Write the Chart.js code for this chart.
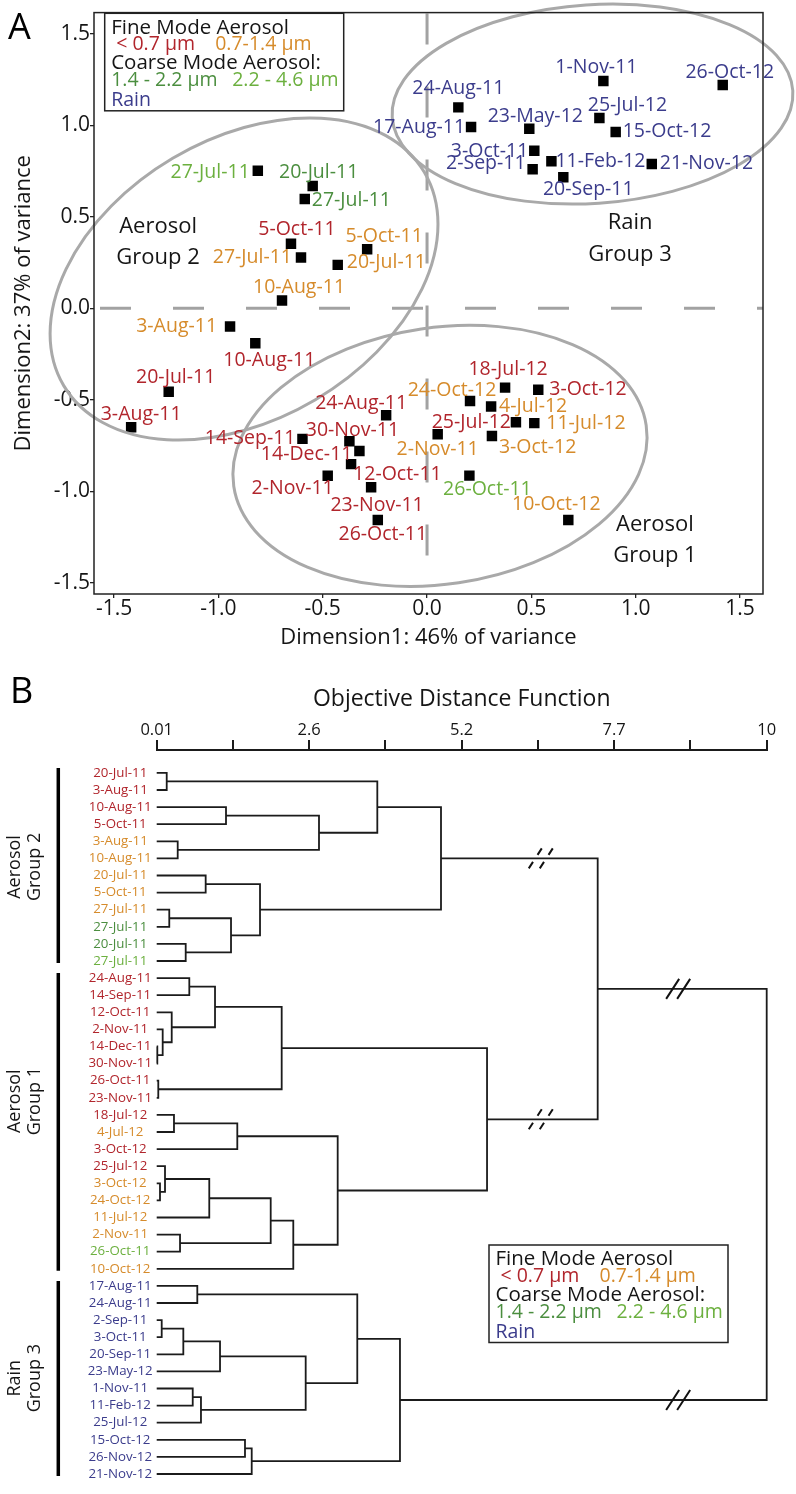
<!DOCTYPE html>
<html>
<head>
<meta charset="utf-8">
<script src="https://cdn.jsdelivr.net/npm/chart.js@4.4.1/dist/chart.umd.min.js"></script>
<style>
  html, body { margin: 0; padding: 0; background: #fff; overflow: hidden; }
  #panelA { position: absolute; left: 0; top: 0; width: 796px; height: 660px; }
  #panelB { position: absolute; left: 0; top: 660px; width: 796px; height: 834px; }
</style>
</head>
<body>
<div id="panelA"><canvas id="mdsChart"></canvas></div>
<div id="panelB"><canvas id="treeChart"></canvas></div>
<script>
// ---- Panel A data: MDS coordinates per size class ----
const classNames = ['< 0.7 µm', '0.7-1.4 µm', '1.4 - 2.2 µm', '2.2 - 4.6 µm', 'Rain'];

const fineSmallDates = ['5-Oct-11', '10-Aug-11', '20-Jul-11', '3-Aug-11', '14-Sep-11', '30-Nov-11', '14-Dec-11', '12-Oct-11',
  '2-Nov-11', '23-Nov-11', '26-Oct-11', '24-Aug-11', '18-Jul-12', '3-Oct-12', '25-Jul-12'];
const fineSmallDim1 = [-0.652, -0.823, -1.238, -1.418, -0.597, -0.372, -0.324, -0.364, -0.476, -0.268, -0.236, -0.196, 0.374, 0.533, 0.426];
const fineSmallDim2 = [0.353, -0.191, -0.456, -0.650, -0.714, -0.727, -0.780, -0.852, -0.916, -0.978, -1.157, -0.585, -0.434, -0.446, -0.623];

const fineLargeDates = ['27-Jul-11', '20-Jul-11', '5-Oct-11', '10-Aug-11', '3-Aug-11', '24-Oct-12', '4-Jul-12', '11-Jul-12',
  '2-Nov-11', '3-Oct-12', '10-Oct-12'];
const fineLargeDim1 = [-0.604, -0.428, -0.287, -0.695, -0.944, 0.206, 0.307, 0.514, 0.051, 0.311, 0.677];
const fineLargeDim2 = [0.277, 0.237, 0.322, 0.042, -0.100, -0.507, -0.537, -0.628, -0.689, -0.698, -1.157];

const coarseSmallDates = ['20-Jul-11', '27-Jul-11'];
const coarseSmallDim1 = [-0.548, -0.586];
const coarseSmallDim2 = [0.668, 0.597];

const coarseLargeDates = ['27-Jul-11', '26-Oct-11'];
const coarseLargeDim1 = [-0.811, 0.203];
const coarseLargeDim2 = [0.752, -0.915];

const rainDates = ['1-Nov-11', '26-Oct-12', '24-Aug-11', '17-Aug-11', '23-May-12', '25-Jul-12', '15-Oct-12', '3-Oct-11',
  '2-Sep-11', '11-Feb-12', '20-Sep-11', '21-Nov-12'];
const rainDim1 = [0.845, 1.417, 0.150, 0.211, 0.490, 0.826, 0.904, 0.514, 0.506, 0.596, 0.653, 1.077];
const rainDim2 = [1.242, 1.220, 1.098, 0.991, 0.981, 1.040, 0.963, 0.861, 0.760, 0.803, 0.716, 0.789];

const dim1Ticks = [-1.5, -1.0, -0.5, 0.0, 0.5, 1.0, 1.5];
const dim2Ticks = [-1.5, -1.0, -0.5, 0.0, 0.5, 1.0, 1.5];

// ---- Panel B data: dendrogram ----
const leafDates = ['20-Jul-11', '3-Aug-11', '10-Aug-11', '5-Oct-11', '3-Aug-11', '10-Aug-11', '20-Jul-11', '5-Oct-11',
  '27-Jul-11', '27-Jul-11', '20-Jul-11', '27-Jul-11',
  '24-Aug-11', '14-Sep-11', '12-Oct-11', '2-Nov-11', '14-Dec-11', '30-Nov-11', '26-Oct-11', '23-Nov-11',
  '18-Jul-12', '4-Jul-12', '3-Oct-12', '25-Jul-12', '3-Oct-12', '24-Oct-12', '11-Jul-12', '2-Nov-11', '26-Oct-11', '10-Oct-12',
  '17-Aug-11', '24-Aug-11', '2-Sep-11', '3-Oct-11', '20-Sep-11', '23-May-12', '1-Nov-11', '11-Feb-12', '25-Jul-12',
  '15-Oct-12', '26-Nov-12', '21-Nov-12'];
const leafClass = [0, 0, 0, 0, 1, 1, 1, 1, 1, 2, 2, 3,
  0, 0, 0, 0, 0, 0, 0, 0, 0, 1, 0, 0, 1, 1, 1, 1, 3, 1,
  4, 4, 4, 4, 4, 4, 4, 4, 4, 4, 4, 4];
// linkage: node ids < 42 are leaves, 42+k is the k-th merge
const mergeLeft = [0, 2, 4, 43, 42, 6, 8, 10, 48, 47, 46,
  12, 16, 15, 14, 53, 18, 57, 20, 60, 24, 23, 63, 27, 64, 66, 61, 59, 52,
  30, 32, 72, 73, 36, 75, 74, 71, 39, 79, 78, 70];
const mergeRight = [1, 3, 5, 44, 45, 7, 9, 11, 49, 50, 51,
  13, 17, 54, 55, 56, 19, 58, 21, 22, 25, 62, 26, 28, 65, 29, 67, 68, 69,
  31, 33, 34, 35, 37, 38, 76, 77, 40, 41, 80, 81];
const mergeHeight = [0.174, 1.145, 0.354, 2.668, 3.623, 0.812, 0.216, 0.485, 1.227, 1.702, 4.666,
  0.544, 0.02, 0.108, 0.256, 0.965, 0.036, 2.057, 0.293, 1.33, 0.064, 0.146, 0.871, 0.392, 1.877, 2.247, 2.974, 5.42, 7.232,
  0.675, 0.092, 0.446, 1.047, 0.6, 0.735, 2.45, 3.295, 1.456, 1.566, 3.994, 10.0];
const distTickLabels = ['0.01', '', '2.6', '', '5.2', '', '7.7', '', '10'];
const DIST_MIN = 0.01, DIST_MAX = 10;

const groupTitles = [['Aerosol', 'Group 2'], ['Aerosol', 'Group 1'], ['Rain', 'Group 3']];
const groupFirstLeaf = [0, 12, 30];
const groupLastLeaf = [11, 29, 41];

// ---- styling ----
const FONT = '"Open Sans", "Noto Sans", sans-serif';
const CLASS_COLORS = ['#b1252c', '#d68b2b', '#4b8e3f', '#6cb03f', '#3b3c8c'];
const INK = '#151515';
Chart.defaults.font.family = FONT;
Chart.defaults.color = INK;

// label placement next to each marker: [dx, dy, side]  l = text left of point, r = right, c = centred
const mdsLabelPos = [
  [[6, -14, 'c'], [14, 17, 'c'], [7, -14, 'c'], [10, -13, 'c'], [-7, 0, 'l'], [3, -11, 'c'], [-7, 4, 'l'], [2, 10, 'r'],
   [6, 13, 'l'], [6, 18, 'c'], [5, 15, 'c'], [-25, -12, 'c'], [3, -18, 'c'], [11, 0, 'r'], [-5, 0, 'l']],
  [[-9, 0, 'l'], [9, -2, 'r'], [17, -13, 'c'], [17, -13, 'c'], [-13, 0, 'l'], [-18, -11, 'c'], [8, 0, 'r'], [12, 0, 'r'],
   [0, 15, 'c'], [7, 12, 'r'], [-12, -15, 'c']],
  [[6, -14, 'c'], [7, 1, 'r']],
  [[-8, 2, 'l'], [18, 14, 'c']],
  [[-7, -14, 'c'], [7, -13, 'c'], [0, -19, 'c'], [-6, 0, 'l'], [6, -12, 'c'], [28, -13, 'c'], [7, -1, 'r'], [-6, 1, 'l'],
   [-7, -6, 'l'], [4, 0, 'r'], [25, 12, 'c'], [8, 0, 'r']]
];
// cluster envelopes in panel A: centre in data units, semi-axes in x units, tilt in degrees
const envCx = [-0.877, 0.793, 0.062];
const envCy = [0.160, 1.116, -0.807];
const envA = [1.004, 0.962, 0.999];
const envB = [0.672, 0.476, 0.615];
const envTilt = [30.6, 3.8, 8.4];
const envTitles = [['Aerosol', 'Group 2'], ['Rain', 'Group 3'], ['Aerosol', 'Group 1']];
const envTitleX = [-1.289, 0.973, 1.092];
const envTitleY = [0.362, 0.379, -1.269];

const mdsDates = [fineSmallDates, fineLargeDates, coarseSmallDates, coarseLargeDates, rainDates];
const mdsDim1 = [fineSmallDim1, fineLargeDim1, coarseSmallDim1, coarseLargeDim1, rainDim1];
const mdsDim2 = [fineSmallDim2, fineLargeDim2, coarseSmallDim2, coarseLargeDim2, rainDim2];

function drawSizeLegend(ctx, left, top) {
  ctx.save();
  ctx.fillStyle = '#fff';
  ctx.fillRect(left, top, 239, 97.5);
  ctx.lineWidth = 1.5;
  ctx.strokeStyle = '#222';
  ctx.strokeRect(left, top, 239, 97.5);
  const rows = [14.5, 31.5, 50, 67, 87];
  ctx.textBaseline = 'middle';
  ctx.textAlign = 'left';
  ctx.fillStyle = INK;
  ctx.font = `20.5px ${FONT}`;
  ctx.fillText('Fine Mode Aerosol', left + 6.5, top + rows[0]);
  ctx.fillText('Coarse Mode Aerosol:', left + 6.5, top + rows[2]);
  const spots = [[11.5, 1], [110.5, 1], [6.5, 3], [127.5, 3], [6.5, 4]];
  ctx.font = `19.5px ${FONT}`;
  classNames.forEach((name, c) => {
    ctx.fillStyle = CLASS_COLORS[c];
    ctx.fillText(name, left + spots[c][0], top + rows[spots[c][1]]);
  });
  ctx.restore();
}

// ---- Panel A ----
const mdsDecor = {
  id: 'mdsDecor',
  beforeDatasetsDraw(chart) {
    const { ctx, chartArea: a, scales: { x, y } } = chart;
    ctx.save();
    ctx.strokeStyle = '#a2a2a2';
    ctx.lineWidth = 3;
    ctx.setLineDash([31, 42]);
    const x0 = x.getPixelForValue(0);
    const y0 = y.getPixelForValue(0);
    ctx.beginPath(); ctx.moveTo(a.left + 6, y0); ctx.lineTo(a.right, y0); ctx.stroke();
    ctx.beginPath(); ctx.moveTo(x0, a.top + 1); ctx.lineTo(x0, a.bottom); ctx.stroke();
    ctx.restore();
  },
  afterDatasetsDraw(chart) {
    const { ctx, chartArea: a, scales: { x, y } } = chart;
    const unit = x.getPixelForValue(1) - x.getPixelForValue(0);
    ctx.save();
    // envelopes
    ctx.strokeStyle = '#a9a9a9';
    ctx.lineWidth = 3;
    envCx.forEach((cx, k) => {
      ctx.beginPath();
      ctx.ellipse(x.getPixelForValue(cx), y.getPixelForValue(envCy[k]), envA[k] * unit, envB[k] * unit,
        -envTilt[k] * Math.PI / 180, 0, Math.PI * 2);
      ctx.stroke();
    });
    // point labels
    ctx.font = `19.5px ${FONT}`;
    ctx.textBaseline = 'middle';
    mdsDates.forEach((dates, c) => {
      const meta = chart.getDatasetMeta(c);
      ctx.fillStyle = CLASS_COLORS[c];
      meta.data.forEach((pt, i) => {
        const [dx, dy, side] = mdsLabelPos[c][i];
        ctx.textAlign = side === 'l' ? 'right' : side === 'r' ? 'left' : 'center';
        ctx.fillText(dates[i], pt.x + dx, pt.y + dy);
      });
    });
    // group titles
    ctx.fillStyle = INK;
    ctx.font = `22px ${FONT}`;
    ctx.textAlign = 'center';
    envTitles.forEach((lines, k) => {
      const px = x.getPixelForValue(envTitleX[k]);
      const py = y.getPixelForValue(envTitleY[k]);
      ctx.fillText(lines[0], px, py - 15.7);
      ctx.fillText(lines[1], px, py + 15.7);
    });
    // frame
    ctx.strokeStyle = '#222';
    ctx.lineWidth = 1.5;
    ctx.strokeRect(a.left, a.top, a.right - a.left, a.bottom - a.top);
    ctx.restore();
    drawSizeLegend(ctx, 104.7, 13.3);
    ctx.save();
    ctx.fillStyle = '#000';
    ctx.font = `36px ${FONT}`;
    ctx.textAlign = 'left';
    ctx.textBaseline = 'alphabetic';
    ctx.fillText('A', 8, 38.5);
    ctx.restore();
  }
};

new Chart(document.getElementById('mdsChart'), {
  type: 'scatter',
  data: {
    datasets: mdsDates.map((dates, c) => ({
      label: classNames[c],
      data: dates.map((d, i) => ({ x: mdsDim1[c][i], y: mdsDim2[c][i] })),
      pointStyle: 'rect',
      pointRadius: 7.4,
      pointHoverRadius: 7.4,
      backgroundColor: '#000',
      borderWidth: 0
    }))
  },
  options: {
    responsive: true,
    maintainAspectRatio: false,
    animation: false,
    events: [],
    layout: { padding: { left: 0, right: 33, top: 12, bottom: 0 } },
    plugins: { legend: { display: false }, tooltip: { enabled: false } },
    scales: {
      x: {
        type: 'linear', min: -1.596, max: 1.61,
        afterBuildTicks: s => { s.ticks = dim1Ticks.map(v => ({ value: v })); },
        afterFit: s => { s.height = 66; },
        ticks: { callback: v => v.toFixed(1), font: { size: 21 }, color: INK, padding: -2, maxRotation: 0 },
        grid: { drawOnChartArea: false, tickLength: 4, color: '#222', lineWidth: 1.3 },
        border: { display: false },
        title: { display: true, text: 'Dimension1: 46% of variance', font: { size: 22 }, color: INK, padding: { top: 0, bottom: 9 } }
      },
      y: {
        type: 'linear', min: -1.562, max: 1.616,
        afterBuildTicks: s => { s.ticks = dim2Ticks.map(v => ({ value: v })); },
        afterFit: s => { s.width = 94; },
        ticks: { callback: v => v.toFixed(1), font: { size: 21 }, color: INK, padding: 0 },
        grid: { drawOnChartArea: false, tickLength: 4, color: '#222', lineWidth: 1.3 },
        border: { display: false },
        title: { display: true, text: 'Dimension2: 37% of variance', font: { size: 22 }, color: INK, padding: { top: 11, bottom: 0 } }
      }
    }
  },
  plugins: [mdsDecor]
});

// ---- Panel B ----
const nodeY = leafDates.map((d, i) => i);
const nodeH = leafDates.map(() => DIST_MIN);
mergeHeight.forEach((h, k) => {
  nodeY.push((nodeY[mergeLeft[k]] + nodeY[mergeRight[k]]) / 2);
  nodeH.push(h);
});
const treeDatasets = mergeHeight.map((h, k) => {
  const l = mergeLeft[k], r = mergeRight[k];
  return {
    data: [
      { x: nodeH[l], y: nodeY[l] }, { x: h, y: nodeY[l] },
      { x: h, y: nodeY[r] }, { x: nodeH[r], y: nodeY[r] }
    ],
    showLine: true,
    borderColor: '#1b1b1b',
    borderWidth: 1.8,
    borderJoinStyle: 'miter',
    pointRadius: 0,
    tension: 0,
    clip: false
  };
});
// axis-break marks drawn on the long branches
const breakNode = [52, 69, 70, 81];
const breakAt = [6.3, 6.3, 8.55, 8.55];
const breakSplit = [true, true, false, false];
const groupTitleRow = [5.5, 19.2, 35.4];

function drawBreak(ctx, px, py, split) {
  ctx.beginPath();
  [-5.5, 5.5].forEach(off => {
    const cx = px + off;
    const segs = split ? [[-10, -3.5], [3.5, 10]] : [[-10, 10]];
    segs.forEach(([t0, t1]) => {
      ctx.moveTo(cx - 0.65 * t0, py + t0);
      ctx.lineTo(cx - 0.65 * t1, py + t1);
    });
  });
  ctx.stroke();
}

const treeDecor = {
  id: 'treeDecor',
  afterDraw(chart) {
    const { ctx, scales: { x, y } } = chart;
    ctx.save();
    // group bars and titles
    ctx.strokeStyle = '#000';
    ctx.lineWidth = 3.5;
    groupFirstLeaf.forEach((first, g) => {
      ctx.beginPath();
      ctx.moveTo(58.3, y.getPixelForValue(first) - 5);
      ctx.lineTo(58.3, y.getPixelForValue(groupLastLeaf[g]) + 2);
      ctx.stroke();
      ctx.save();
      ctx.translate(25, y.getPixelForValue(groupTitleRow[g]));
      ctx.rotate(-Math.PI / 2);
      ctx.fillStyle = INK;
      ctx.font = `18px ${FONT}`;
      ctx.textAlign = 'center';
      ctx.textBaseline = 'middle';
      ctx.fillText(groupTitles[g][0], 0, -10);
      ctx.fillText(groupTitles[g][1], 0, 10);
      ctx.restore();
    });
    // break marks
    ctx.strokeStyle = '#111';
    ctx.lineWidth = 2;
    breakNode.forEach((n, k) => {
      drawBreak(ctx, x.getPixelForValue(breakAt[k]), y.getPixelForValue(nodeY[n]), breakSplit[k]);
    });
    ctx.fillStyle = '#000';
    ctx.font = `36px ${FONT}`;
    ctx.textAlign = 'left';
    ctx.textBaseline = 'alphabetic';
    ctx.fillText('B', 10, 43);
    ctx.restore();
    drawSizeLegend(ctx, 489, 585);
  }
};

new Chart(document.getElementById('treeChart'), {
  type: 'scatter',
  data: { datasets: treeDatasets },
  options: {
    responsive: true,
    maintainAspectRatio: false,
    animation: false,
    events: [],
    layout: { padding: { left: 0, right: 29.3, top: 0, bottom: 0 } },
    plugins: { legend: { display: false }, tooltip: { enabled: false } },
    scales: {
      x: {
        type: 'linear', position: 'top', min: DIST_MIN, max: DIST_MAX,
        afterBuildTicks: s => {
          const n = distTickLabels.length - 1;
          s.ticks = distTickLabels.map((t, i) => ({ value: DIST_MIN + i * (DIST_MAX - DIST_MIN) / n }));
        },
        afterFit: s => { s.height = 90; },
        ticks: { callback: (v, i) => distTickLabels[i], font: { size: 16.5 }, color: INK, padding: 0, maxRotation: 0, autoSkip: false },
        grid: { drawOnChartArea: false, tickLength: 10, color: '#1b1b1b', lineWidth: 2 },
        border: { display: true, color: '#1b1b1b', width: 2 },
        title: { display: true, text: 'Objective Distance Function', font: { size: 23 }, color: INK, padding: { top: 26, bottom: 0 } }
      },
      y: {
        type: 'linear', min: -1.34, max: 41.47, reverse: true,
        afterBuildTicks: s => { s.ticks = leafDates.map((d, i) => ({ value: i })); },
        afterFit: s => { s.width = 156.7; },
        ticks: {
          callback: v => leafDates[v],
          color: c => CLASS_COLORS[leafClass[c.index]],
          font: { size: 13.3 },
          crossAlign: 'center',
          padding: 4,
          autoSkip: false
        },
        grid: { display: false, drawTicks: false },
        border: { display: false }
      }
    }
  },
  plugins: [treeDecor]
});
</script>
</body>
</html>
